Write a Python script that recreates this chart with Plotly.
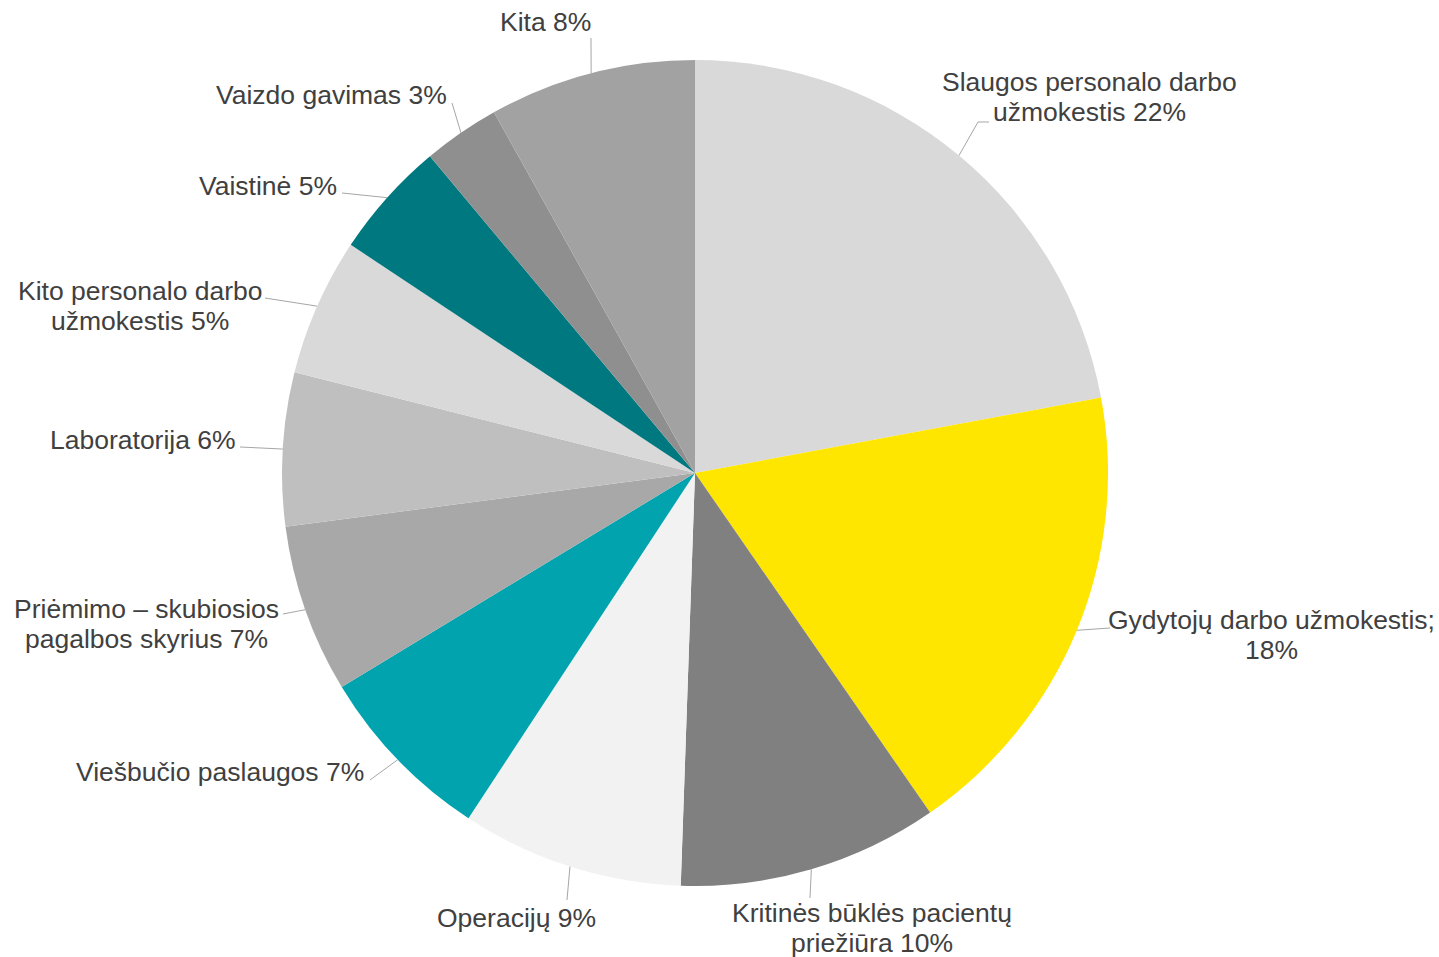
import math
import plotly.graph_objects as go

# ---------------- data ----------------
labels = [
    "Slaugos personalo darbo<br>užmokestis 22%",
    "Gydytojų darbo užmokestis;<br>18%",
    "Kritinės būklės pacientų<br>priežiūra 10%",
    "Operacijų 9%",
    "Viešbučio paslaugos 7%",
    "Priėmimo – skubiosios<br>pagalbos skyrius 7%",
    "Laboratorija 6%",
    "Kito personalo darbo<br>užmokestis 5%",
    "Vaistinė 5%",
    "Vaizdo gavimas 3%",
    "Kita 8%",
]
values = [22.1, 18.3, 10.2, 8.7, 7.1, 6.6, 6.0, 5.4, 4.6, 3.0, 8.1]
colors = ["#D9D9D9", "#FFE600", "#808080", "#F2F2F2", "#00A3AE", "#A8A8A8",
          "#BFBFBF", "#D9D9D9", "#00787F", "#8F8F8F", "#A2A2A2"]

# ---------------- layout constants (pixels) ----------------
W, H = 1439, 957
CX, CY, R = 695, 473, 413
FONT = "Liberation Sans, Arial, sans-serif"
FSIZE = 26.5
TEXT_COLOR = "#404040"
LINE_COLOR = "#A6A6A6"
LINE_GAP = 30.5

# label block centre (x, y) and leader-line end (with optional elbow)
label_pos = [
    (1089, 97), (1271, 635), (872, 928), (516, 918), (220, 772), (146, 624),
    (143, 440), (140, 306), (268, 186), (331, 95), (545, 22),
]
leader_pts = [
    [(978, 122), (989, 122)],
    [(1110, 628)],
    [(810, 898)],
    [(567, 900)],
    [(370, 780)],
    [(283, 614)],
    [(240, 447)],
    [(265, 298)],
    [(342, 193)],
    [(452, 103)],
    [(591, 38)],
]

def px(x):
    return x / W

def py(y):
    return 1 - y / H

fig = go.Figure(go.Pie(
    labels=labels,
    values=values,
    sort=False,
    direction="clockwise",
    rotation=0,
    marker=dict(colors=colors, line=dict(width=0)),
    textinfo="none",
    hoverinfo="label",
    showlegend=False,
    domain=dict(x=[px(CX - R), px(CX + R)], y=[py(CY + R), py(CY - R)]),
))

total = sum(values)
cum = 0.0
shapes = []
annotations = []
for i, v in enumerate(values):
    mid = (cum + v / 2) / total * 2 * math.pi
    cum += v
    ex = CX + R * math.sin(mid)
    ey = CY - R * math.cos(mid)
    pts = [(ex, ey)] + leader_pts[i]
    path = "M " + " L ".join(f"{px(x):.5f},{py(y):.5f}" for x, y in pts)
    shapes.append(dict(type="path", path=path, xref="paper", yref="paper",
                       line=dict(color=LINE_COLOR, width=1)))
    lines = labels[i].split("<br>")
    lx, ly = label_pos[i]
    n = len(lines)
    for k, t in enumerate(lines):
        yy = ly + (k - (n - 1) / 2) * LINE_GAP
        annotations.append(dict(
            x=px(lx), y=py(yy), xref="paper", yref="paper",
            text=t, showarrow=False, xanchor="center", yanchor="middle",
            font=dict(family=FONT, size=FSIZE, color=TEXT_COLOR),
        ))

fig.update_layout(
    width=W, height=H,
    margin=dict(l=0, r=0, t=0, b=0),
    paper_bgcolor="white",
    plot_bgcolor="white",
    shapes=shapes,
    annotations=annotations,
)

fig.write_html("out.html", config={"displayModeBar": False},
               post_script="document.body.style.margin='0';")
